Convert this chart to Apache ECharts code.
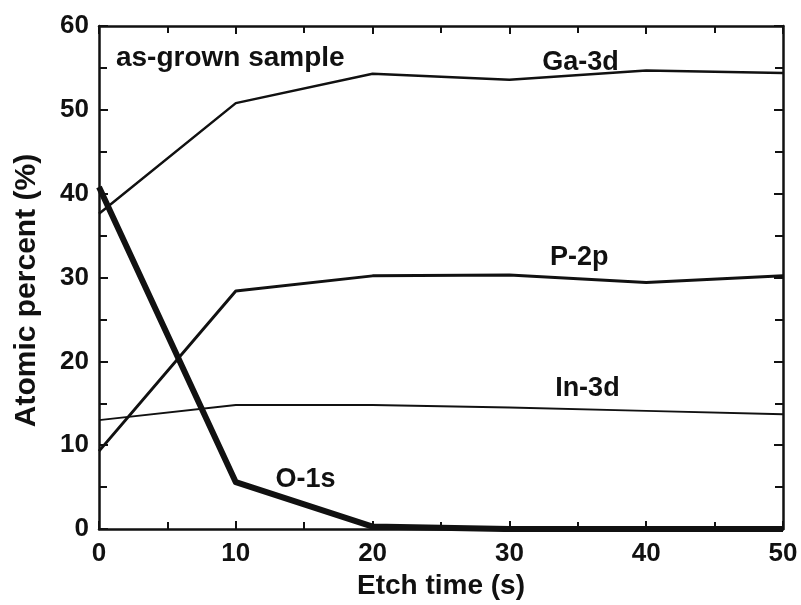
<!DOCTYPE html>
<html>
<head>
<meta charset="utf-8">
<script src="https://cdn.jsdelivr.net/npm/echarts@6/dist/echarts.min.js"></script>
<style>
html,body{margin:0;padding:0;background:#fff;}
#main{width:801px;height:605px;}
</style>
</head>
<body>
<div id="main"></div>
<script>
const etchTime = [0, 10, 20, 30, 40, 50];
const ga3d = [37.6, 50.8, 54.3, 53.6, 54.7, 54.4];
const p2p = [9.3, 28.4, 30.2, 30.3, 29.4, 30.2];
const in3d = [13.0, 14.8, 14.8, 14.5, 14.1, 13.7];
const o1s = [40.8, 5.6, 0.3, 0, 0, 0];

function pairs(xs, ys) { return xs.map((x, i) => [x, ys[i]]); }

const FONT = '"Liberation Sans", Arial, Helvetica, sans-serif';
const ink = '#111';

const chart = echarts.init(document.getElementById('main'));

function textMark(coord, text, size) {
  return {
    symbol: 'rect',
    symbolSize: [1, 1],
    itemStyle: { color: 'rgba(0,0,0,0)' },
    data: [{ coord: coord, value: text }],
    label: {
      show: true, formatter: text, color: ink,
      fontFamily: FONT, fontWeight: 'bold', fontSize: size,
      position: 'inside'
    },
    silent: true,
    animation: false
  };
}

function lineSeries(name, vals, width, label) {
  return {
    name: name,
    type: 'line',
    data: pairs(etchTime, vals),
    showSymbol: false,
    symbol: 'none',
    lineStyle: { color: ink, width: width, join: 'round' },
    itemStyle: { color: ink },
    animation: false,
    z: 3,
    markPoint: textMark(label.coord, label.text, 27)
  };
}

function axisCommon(extra) {
  return Object.assign({
    axisLine: { show: true, onZero: false, lineStyle: { color: ink, width: 2.5 } },
    axisTick: { show: true, inside: true, length: 8, lineStyle: { color: ink, width: 2 } },
    minorTick: { show: true, splitNumber: 2, length: 7, lineStyle: { color: ink, width: 2 } },
    splitLine: { show: false }
  }, extra);
}

const option = {
  backgroundColor: '#fff',
  animation: false,
  grid: { left: 99, right: 18, top: 26, bottom: 73, containLabel: false },
  xAxis: [
    axisCommon({
      type: 'value', min: 0, max: 50, interval: 10, position: 'bottom',
      name: 'Etch time (s)', nameLocation: 'middle', nameGap: 35,
      nameTextStyle: { fontFamily: FONT, fontWeight: 'bold', fontSize: 28, color: ink },
      axisLabel: { fontFamily: FONT, fontWeight: 'bold', fontSize: 26, color: ink, margin: 12 }
    }),
    axisCommon({
      type: 'value', min: 0, max: 50, interval: 10, position: 'top',
      axisLabel: { show: false }
    })
  ],
  yAxis: [
    axisCommon({
      type: 'value', min: 0, max: 60, interval: 10, position: 'left',
      name: 'Atomic percent (%)', nameLocation: 'middle', nameGap: 57, nameRotate: 90,
      nameTextStyle: { fontFamily: FONT, fontWeight: 'bold', fontSize: 30, color: ink, padding: [0, 26, 0, 0] },
      axisTick: { show: true, inside: true, length: 9, lineStyle: { color: ink, width: 2 } },
      minorTick: { show: true, splitNumber: 2, length: 8, lineStyle: { color: ink, width: 2 } },
      axisLabel: { fontFamily: FONT, fontWeight: 'bold', fontSize: 26, color: ink, margin: 10 }
    }),
    axisCommon({
      type: 'value', min: 0, max: 60, interval: 10, position: 'right',
      axisTick: { show: true, inside: true, length: 9, lineStyle: { color: ink, width: 2 } },
      minorTick: { show: true, splitNumber: 2, length: 8, lineStyle: { color: ink, width: 2 } },
      axisLabel: { show: false }
    })
  ],
  series: [
    lineSeries('Ga-3d', ga3d, 2.5, { coord: [35.2, 55.7], text: 'Ga-3d' }),
    lineSeries('P-2p', p2p, 3, { coord: [35.1, 32.4], text: 'P-2p' }),
    lineSeries('In-3d', in3d, 1.8, { coord: [35.7, 16.8], text: 'In-3d' }),
    lineSeries('O-1s', o1s, 6, { coord: [15.1, 5.9], text: 'O-1s' }),
    {
      name: 'note', type: 'line', data: [], silent: true,
      markPoint: textMark([9.6, 56.2], 'as-grown sample', 28)
    }
  ]
};
chart.setOption(option);
</script>
</body>
</html>
